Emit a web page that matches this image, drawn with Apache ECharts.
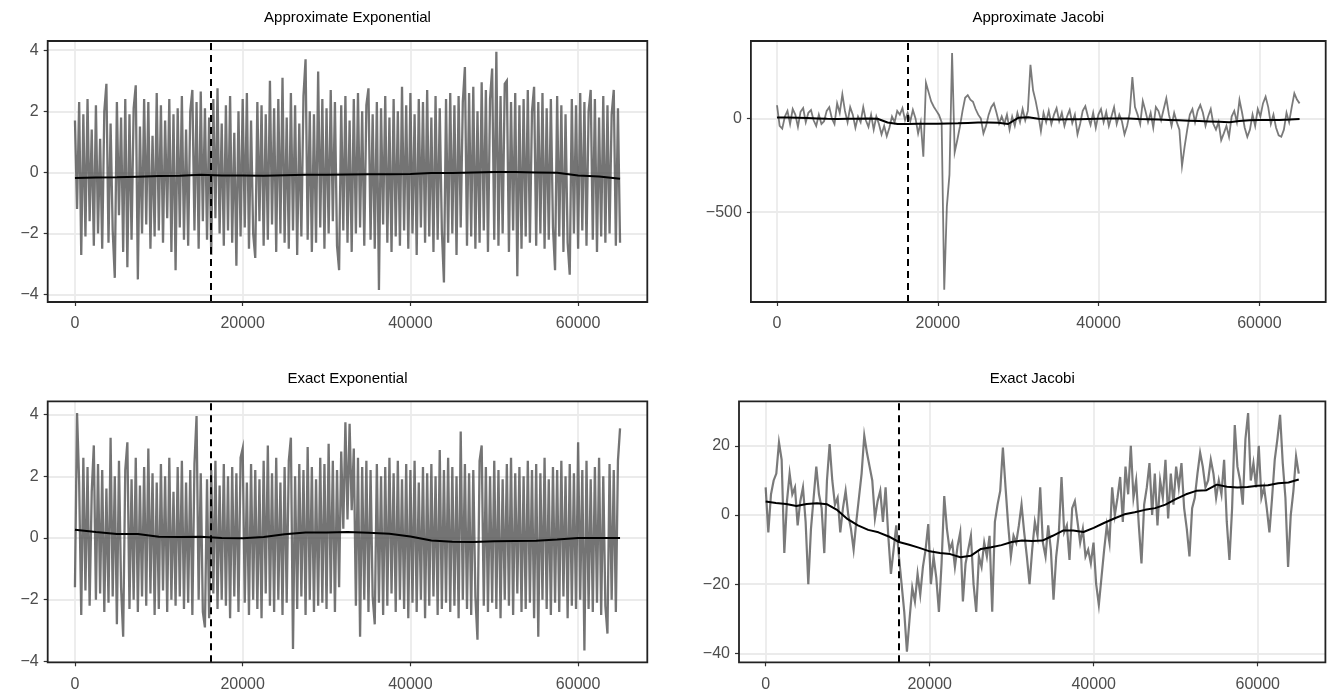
<!DOCTYPE html>
<html><head><meta charset="utf-8">
<script src="https://cdn.jsdelivr.net/npm/echarts@6/dist/echarts.min.js"></script>
<style>html,body{margin:0;padding:0;background:#fff}#c{width:1335px;height:696px}</style>
</head><body><div id="c"></div>
<script>
// ---------------- data ----------------
const EXP_STEP = 250;        // iteration spacing of the exponential traces
const JAC_STEP = 325;        // iteration spacing of the Jacobi traces
const EXP_SMOOTH_STEP = 2500; // iteration spacing of the exponential running means
const JAC_SMOOTH_STEP = 1250; // iteration spacing of the Jacobi running means
const BURN_IN = 16250;       // dashed vertical line
const X_TICKS = [0, 20000, 40000, 60000];

const approxExpTrace = [
 1.7,-1.2,2.3,-2.7,1.9,-2.1,2.4,-1.6,1.4,-2.4,2.2,-2.0,1.1,-2.5,2.0,2.9,-2.3,1.6,-1.9,-3.45,
 2.3,-1.4,1.8,-2.6,2.4,-3.1,1.9,-2.2,2.1,2.85,-3.5,1.5,-2.0,2.4,-1.7,2.3,-2.5,1.2,-2.1,2.6,
 -1.9,2.2,-2.3,1.7,-1.5,2.4,-2.6,1.9,-3.2,2.1,-1.8,2.5,-2.2,1.4,-2.4,2.0,2.7,-1.9,2.3,-2.5,
 2.65,-1.6,2.1,-2.2,1.8,-2.7,2.4,-1.5,2.75,-2.0,1.6,-2.4,2.2,-1.9,2.5,-2.3,1.3,-3.05,2.0,-2.1,
 2.4,-1.8,2.6,-2.5,1.7,-2.0,-2.8,2.3,-1.6,2.2,-2.4,1.9,-2.2,3.0,-1.7,2.1,-2.6,2.4,-2.0,3.1,
 -2.3,1.8,-2.5,2.6,-1.9,2.2,-2.7,1.6,-2.1,2.5,3.7,-2.2,2.0,-2.6,1.9,-2.3,3.3,-1.8,2.4,-2.5,
 2.1,-2.0,2.7,-1.6,2.3,-2.4,-3.2,2.2,-1.9,2.5,-2.3,1.7,-2.6,2.4,-2.0,2.6,-1.8,2.0,-2.4,2.2,
 2.75,-2.2,1.9,-2.5,2.3,-3.85,2.1,-1.7,2.5,-2.3,1.8,-2.6,2.4,-2.1,2.0,-2.4,2.8,-1.9,2.2,-2.5,
 2.6,-2.0,1.9,-2.7,2.4,-1.8,2.3,-2.3,2.7,-2.1,1.8,-2.6,2.5,-2.2,2.1,-1.9,-3.6,2.4,-2.3,2.6,
 -2.0,2.2,-2.7,2.5,-1.8,2.3,3.45,-2.4,2.6,-2.1,2.8,-2.5,2.0,-2.3,2.95,-1.9,2.7,-2.6,2.4,3.4,
 -2.2,3.95,-2.4,2.5,-2.0,2.9,3.0,-2.6,2.3,-1.9,2.6,-3.4,2.2,-2.5,2.4,-2.1,2.7,-2.3,2.0,2.8,
 -2.4,2.3,-2.0,2.6,-2.5,2.1,-2.2,2.4,-1.8,-3.2,2.5,-2.1,2.2,-2.6,1.9,-2.3,-3.35,2.4,-2.0,2.2,
 -2.5,2.6,-1.9,2.3,-2.4,2.0,2.7,-2.2,2.4,-2.6,1.8,-2.1,2.5,-2.3,2.2,-2.0,1.9,2.7,-2.4,2.1,-2.3
];
const approxExpSmooth = [-0.18,-0.17,-0.16,-0.14,-0.12,-0.11,-0.08,-0.10,-0.10,-0.11,-0.09,-0.08,-0.08,-0.07,
 -0.06,-0.06,-0.05,-0.02,-0.02,0.00,0.01,0.01,0.00,-0.01,-0.10,-0.13,-0.21];

const exactExpTrace = [
 -1.6,4.05,1.8,-2.5,2.6,-1.7,2.3,-2.2,1.5,3.0,-2.0,2.4,-1.8,2.2,-2.4,1.6,-2.1,3.25,-1.9,2.0,
 -2.8,2.5,-1.6,-3.2,2.2,3.1,-2.3,1.9,-2.0,2.6,-2.4,1.7,-1.9,2.3,-2.2,2.9,-1.8,2.1,-2.5,1.8,
 -2.3,2.4,-1.7,2.0,-2.4,2.6,-2.0,1.5,-2.2,2.3,-1.9,2.5,-2.3,1.8,-2.1,2.2,-2.5,2.4,3.95,-2.0,
 2.1,-2.4,-2.9,1.9,-2.6,2.2,-1.8,2.5,-2.3,1.7,-2.0,2.4,-2.2,2.0,-2.6,2.3,-1.9,2.1,-2.4,2.6,
 2.9,-2.1,1.8,-2.5,2.4,-2.0,2.2,-2.3,1.9,-2.6,2.5,-1.8,3.0,-2.2,2.1,-2.4,2.6,-2.0,1.8,-2.5,
 2.3,-2.1,2.5,3.25,-3.6,2.0,-2.3,2.4,-1.9,2.2,-2.5,2.95,-2.0,2.3,-2.4,1.9,-2.2,2.6,-2.1,2.4,
 -2.3,3.05,-1.8,2.5,-2.4,2.2,-1.6,2.8,0.3,3.75,0.6,3.7,0.9,2.9,-2.2,2.6,-3.2,2.3,-2.0,2.5,
 -2.4,2.2,-1.9,-2.8,2.4,-2.1,2.0,-2.5,2.3,-2.2,2.6,-1.8,2.1,-2.4,2.5,-2.0,1.9,-2.3,2.4,-2.6,
 2.2,-2.1,2.5,-2.4,1.8,-2.0,2.3,-2.6,2.1,-2.2,2.4,-1.9,2.0,-2.5,2.85,-2.3,2.2,-2.1,2.6,-2.4,
 2.3,-2.2,2.0,-2.6,3.45,-2.0,2.4,-2.3,2.1,-2.5,2.2,-1.9,-3.3,2.5,3.0,-2.2,2.3,-2.4,2.0,-2.1,
 2.5,-2.3,2.2,-2.6,1.9,-2.0,2.4,-2.2,2.6,-2.5,2.1,-1.8,2.3,-2.4,2.0,-2.3,2.5,-2.1,2.2,-2.6,
 2.4,-3.2,2.1,-2.0,2.6,-2.3,1.9,-2.5,2.3,-2.1,2.2,-2.4,2.5,-1.9,2.0,-2.6,2.4,-2.2,2.1,-2.3,
 3.1,-2.0,2.2,-3.65,2.5,-2.3,1.9,-2.4,2.3,-2.1,2.6,-2.5,2.0,-2.2,-3.1,2.4,-2.0,2.2,-2.4,2.5,3.55
];
const exactExpSmooth = [0.27,0.19,0.13,0.13,0.04,0.03,0.04,0.00,-0.01,0.03,0.12,0.18,0.18,0.19,
 0.17,0.14,0.05,-0.08,-0.12,-0.13,-0.11,-0.10,-0.09,-0.05,0.00,0.00,0.00];

const approxJacTrace = [
 70,-40,-55,10,40,-30,50,20,-45,35,55,-20,30,45,-10,-40,20,-30,-15,40,
 60,0,-30,80,30,128,40,-20,60,20,-50,10,-20,60,-10,-45,20,-60,10,-30,
 -85,-40,-95,-50,10,-20,40,20,55,-10,30,-15,45,0,-80,-20,-204,190,140,90,
 62,40,18,-20,-913,-470,-300,349,-180,-115,-44,40,110,124,100,89,50,20,0,-80,
 -40,20,60,80,30,-27,10,-30,20,-60,10,-40,30,-20,50,-10,40,285,150,92,
 20,-68,30,-20,40,-30,20,55,-15,30,-40,10,45,-25,20,-85,-30,40,65,10,
 -35,30,-50,20,50,-20,35,-40,10,60,-30,20,-15,-85,-40,30,220,60,20,-30,
 92,40,-20,30,-50,60,39,-10,50,107,20,-40,30,-20,-60,-254,-150,-60,20,50,
 -20,40,71,30,-40,10,50,-30,-60,-20,-116,-80,-40,-98,10,40,-20,98,30,-50,
 -98,-60,20,-40,50,10,80,116,60,-30,20,-50,-90,-98,-60,30,-20,60,133,100,80
];
const approxJacSmooth = [5,5,4,2,0,-2,-3,-2,-2,-1,-2,-22,-30,-30,-29,-28,-28,-27,-26,-24,-22,-22,-23,-30,
 3,6,-2,-4,-6,-5,-4,-3,-2,-1,0,-1,-3,-4,-6,-8,-10,-12,-14,-16,-18,-20,-14,-10,-8,-8,-8,-6,-3];

const exactJacTrace = [
 8,-5,6,10,12,21,16,-11,4,12,6,8,-3,4,8,-2,-20,-4,5,14,
 6,2,-11,10,20.5,10,3,5,-5,2,7,0,-4,-10,-2,5,12,23,18,14,
 10,-1,4,7,-2,8,-6,-17,-10,-3,-12,-20,-28,-39.5,-30,-21,-25,-17,-23,-15,
 -10,-2.6,-20,-12,-18,-28,-14,5.5,-4,-10,-8,-15,-9,-5,-25,-14,-10,-6,-20,-28,
 -12,-15,-8,-12,-6,-28,-2,3,7,19.5,8,-3,-12,-6,-8,-3,3,-5,-12,-20,
 -10,-2,-6,8,-8,-12,-3,-10,-24.5,-12,-5,11,-5,-3,-13,2,4,-2,-8,-4,
 -12,-10,-14,-8,-20,-26,-18,-10,-3,-8,8,0,5,11,-2,14,6,20,5,10,
 -3,-14,3,8,15,0,12,-3,10,5,16,-1,12,3,14,8,15,2,-4,-12,
 2,5,12,18,14,8,10,16,12,5,10,6,16,-2,-13,2,26,14,10,3,
 22,29.5,10,15,8,20,5,8,2,-5,5,16,22,29,15,5,-15,0,7,17,12
];
const exactJacSmooth = [3.9,3.5,3.2,2.6,3.2,3.4,3.1,1.4,-1.2,-3.0,-4.3,-5.0,-6.2,-7.8,-8.6,-9.5,-10.5,-11.0,
 -11.3,-12.2,-11.8,-9.8,-9.3,-8.7,-7.8,-7.4,-7.5,-7.4,-6.0,-4.5,-4.5,-4.9,-3.7,-2.3,-1.0,0.2,0.8,1.5,
 2.0,3.0,4.6,6.0,7.0,7.2,8.8,8.2,8.0,8.1,8.5,8.6,9.2,9.4,10.3];

// ---------------- layout / styling ----------------
const FONT = "'Liberation Sans', Arial, Helvetica, sans-serif";
const panels = [
 {title:'Approximate Exponential', trace:approxExpTrace, step:EXP_STEP, smooth:approxExpSmooth, sStep:EXP_SMOOTH_STEP,
  w:2.3, op:0.78,
  yMin:-4.24, yMax:4.30, yTicks:[-4,-2,0,2,4], grid:{left:47.7, top:41, width:599.6, height:261}, titleY:17},
 {title:'Approximate Jacobi', trace:approxJacTrace, step:JAC_STEP, smooth:approxJacSmooth, sStep:JAC_SMOOTH_STEP,
  w:1.8, op:0.75,
  yMin:-978.6, yMax:412.5, yTicks:[-500,0], grid:{left:750.9, top:41, width:574.8, height:261}, titleY:17},
 {title:'Exact Exponential', trace:exactExpTrace, step:EXP_STEP, smooth:exactExpSmooth, sStep:EXP_SMOOTH_STEP,
  w:2.3, op:0.78,
  yMin:-4.03, yMax:4.43, yTicks:[-4,-2,0,2,4], grid:{left:47.7, top:401.3, width:599.6, height:261}, titleY:378},
 {title:'Exact Jacobi', trace:exactJacTrace, step:JAC_STEP, smooth:exactJacSmooth, sStep:JAC_SMOOTH_STEP,
  w:2.2, op:0.75,
  yMin:-42.6, yMax:32.9, yTicks:[-40,-20,0,20], grid:{left:739, top:401.3, width:586.4, height:261}, titleY:378}
];
const X_MIN = -3250, X_MAX = 68250;
const TITLE_SIZE = 15, TICK_SIZE = 16;
const fmt = v => String(v).replace('-', '\u2212');

const option = {
  animation:false,
  backgroundColor:'#ffffff',
  title: panels.map(p => ({
    text:p.title, left:p.grid.left + p.grid.width/2, top:p.titleY - TITLE_SIZE/2 + 1,
    textAlign:'center', padding:0,
    textStyle:{fontSize:TITLE_SIZE, fontWeight:'normal', color:'#000', fontFamily:FONT}
  })),
  grid: panels.map(p => Object.assign({show:true, z:10, backgroundColor:'transparent',
    borderColor:'#222222', borderWidth:1.8, containLabel:false}, p.grid)),
  xAxis: panels.map((p,i) => ({
    type:'value', gridIndex:i, min:X_MIN, max:X_MAX, position:'bottom',
    axisLine:{show:false, onZero:false},
    axisTick:{show:true, inside:false, length:4, lineStyle:{color:'#333333', width:1.2}, customValues:X_TICKS},
    axisLabel:{show:true, margin:14, color:'#4D4D4D', fontSize:TICK_SIZE, fontFamily:FONT,
      customValues:X_TICKS, formatter:fmt},
    splitLine:{show:true, lineStyle:{color:'#EBEBEB', width:1.8}}
  })),
  yAxis: panels.map((p,i) => ({
    type:'value', gridIndex:i, min:p.yMin, max:p.yMax, position:'left',
    axisLine:{show:false, onZero:false},
    axisTick:{show:true, inside:false, length:4, lineStyle:{color:'#333333', width:1.2}, customValues:p.yTicks},
    axisLabel:{show:true, margin:9, color:'#4D4D4D', fontSize:TICK_SIZE, fontFamily:FONT,
      customValues:p.yTicks, formatter:fmt},
    splitLine:{show:true, lineStyle:{color:'#EBEBEB', width:1.8}}
  })),
  series: []
};

panels.forEach((p,i) => {
  option.series.push({
    type:'line', xAxisIndex:i, yAxisIndex:i, silent:true, z:2,
    showSymbol:false, symbol:'none', clip:true,
    data:p.trace.map((v,k) => [k*p.step, v]),
    lineStyle:{color:'#4d4d4d', width:p.w, opacity:p.op, join:'miter'}
  });
  option.series.push({
    type:'line', xAxisIndex:i, yAxisIndex:i, silent:true, z:3,
    showSymbol:false, symbol:'none', clip:true,
    data:p.smooth.map((v,k) => [k*p.sStep, v]),
    lineStyle:{color:'#000000', width:2},
    markLine:{silent:true, symbol:'none', label:{show:false},
      lineStyle:{color:'#000000', type:[7,5], width:2},
      data:[{xAxis:BURN_IN}]}
  });
});

const chart = echarts.init(document.getElementById('c'), null, {renderer:'canvas'});
chart.setOption(option);
</script>
</body></html>
